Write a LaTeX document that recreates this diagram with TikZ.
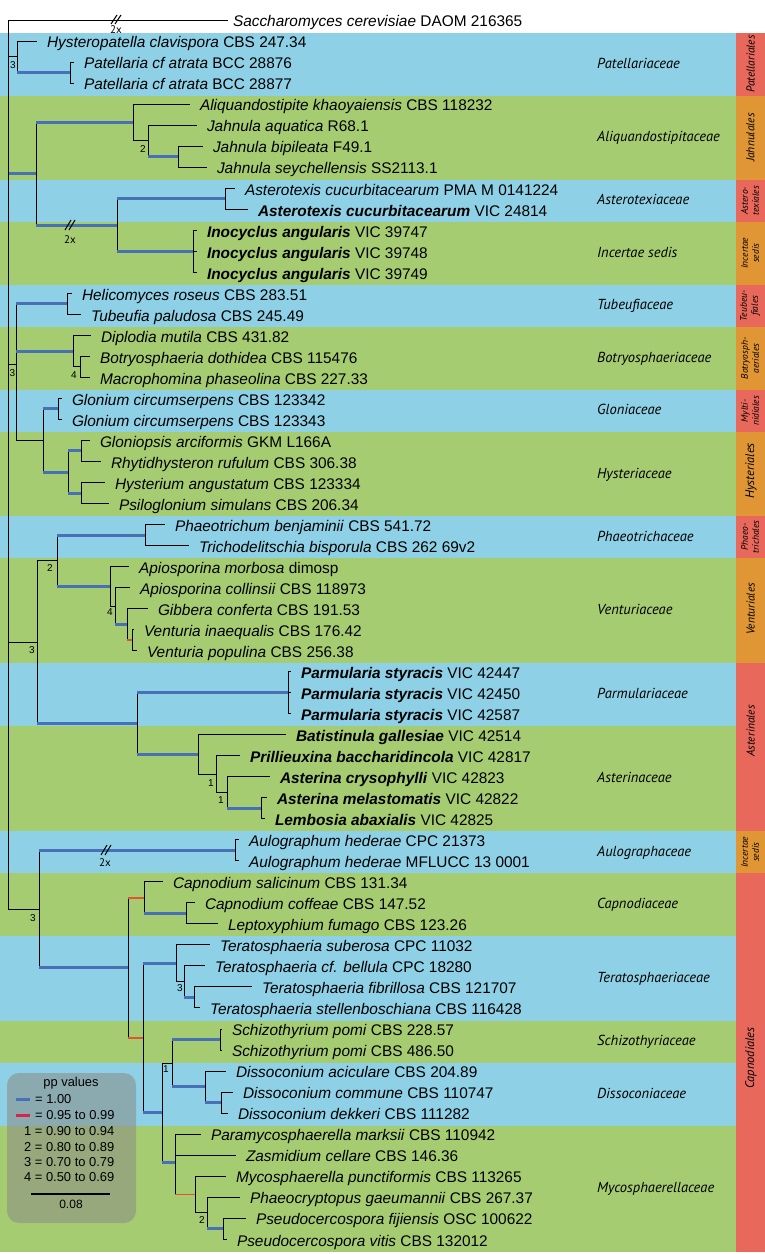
\documentclass[tikz,border=0pt]{standalone}
\usepackage{fontspec}
\setmainfont{Liberation Sans}
\newfontfamily\famfont{PT Sans}

\definecolor{bandblue}{RGB}{142,208,229}
\definecolor{bandgreen}{RGB}{166,204,114}
\definecolor{ordred}{RGB}{232,104,92}
\definecolor{ordorange}{RGB}{224,150,52}
\definecolor{ppblue}{RGB}{72,112,182}
\definecolor{ppred}{RGB}{226,84,48}
\definecolor{legred}{RGB}{214,36,78}
\definecolor{legbox}{RGB}{138,140,134}

\tikzset{
  br/.style={line width=1pt},
  pp1/.style={line width=3pt, draw=ppblue},
  ppr/.style={line width=1.8pt, draw=ppred},
  leaf/.style={anchor=west, inner xsep=10pt, inner ysep=0pt, outer sep=0pt, text height=13.6pt, text depth=0pt, font=\fontsize{15.4}{18}\selectfont},
  fam/.style={anchor=west, inner sep=0pt, text height=8pt, text depth=0pt, font=\famfont\itshape\fontsize{14.5}{17}\selectfont},
  ord/.style={rotate=90, align=center, inner sep=0pt, font=\famfont\itshape\fontsize{11.5}{12}\selectfont},
  ordsm/.style={rotate=90, align=center, inner sep=0pt, font=\famfont\itshape\fontsize{9.5}{11}\selectfont},
  pp/.style={inner sep=0pt, font=\fontsize{10}{12}\selectfont},
  brk/.style={inner sep=0pt, font=\famfont\fontsize{11}{13}\selectfont},
  leg/.style={anchor=west, inner sep=0pt, text height=9pt, text depth=0pt, font=\fontsize{12.9}{15}\selectfont},
}

\begin{document}
\begin{tikzpicture}[x=1pt, y=-1pt]
\useasboundingbox (0,0) rectangle (765,1254);

% family bands
\fill[bandblue] (0,32.5) rectangle (736,95.6);
\fill[bandgreen] (0,95.6) rectangle (736,179.7);
\fill[bandblue] (0,179.7) rectangle (736,221.7);
\fill[bandgreen] (0,221.7) rectangle (736,284.8);
\fill[bandblue] (0,284.8) rectangle (736,326.8);
\fill[bandgreen] (0,326.8) rectangle (736,389.9);
\fill[bandblue] (0,389.9) rectangle (736,431.9);
\fill[bandgreen] (0,431.9) rectangle (736,516.0);
\fill[bandblue] (0,516.0) rectangle (736,558.0);
\fill[bandgreen] (0,558.0) rectangle (736,663.1);
\fill[bandblue] (0,663.1) rectangle (736,726.2);
\fill[bandgreen] (0,726.2) rectangle (736,831.3);
\fill[bandblue] (0,831.3) rectangle (736,873.3);
\fill[bandgreen] (0,873.3) rectangle (736,936.4);
\fill[bandblue] (0,936.4) rectangle (736,1020.5);
\fill[bandgreen] (0,1020.5) rectangle (736,1062.5);
\fill[bandblue] (0,1062.5) rectangle (736,1125.6);
\fill[bandgreen] (0,1125.6) rectangle (736,1251.7);

% order column
\fill[ordred] (736,32.5) rectangle (765,95.6);
\fill[ordorange] (736,95.6) rectangle (765,179.7);
\fill[ordred] (736,179.7) rectangle (765,221.7);
\fill[ordorange] (736,221.7) rectangle (765,284.8);
\fill[ordred] (736,284.8) rectangle (765,326.8);
\fill[ordorange] (736,326.8) rectangle (765,389.9);
\fill[ordred] (736,389.9) rectangle (765,431.9);
\fill[ordorange] (736,431.9) rectangle (765,516.0);
\fill[ordred] (736,516.0) rectangle (765,558.0);
\fill[ordorange] (736,558.0) rectangle (765,663.1);
\fill[ordred] (736,663.1) rectangle (765,831.3);
\fill[ordorange] (736,831.3) rectangle (765,873.3);
\fill[ordred] (736,873.3) rectangle (765,1251.7);

\node[ord] (opatel) at (750.5,64) {Patellariales};
\node[ord] (ojahn) at (750.5,137.6) {Jahnulales};
\node[ordsm] (oastex) at (750,200.7) {Astero-\\texiales};
\node[ordsm] (oinc1) at (750,253.3) {Incertae\\sedis};
\node[ordsm] (otubeu) at (750,305.8) {Teubeu-\\fiales};
\node[ordsm] (obotry) at (750,358.4) {Botryosph-\\aeriales};
\node[ordsm] (omytil) at (750,410.9) {Mylti-\\nidiales};
\node[ord, font=\famfont\itshape\fontsize{12.5}{13}\selectfont] (ohyst) at (751,471) {Hysteriales};
\node[ordsm] (ophaeo) at (750,537) {Phaeo-\\trichales};
\node[ord] (oventu) at (750.5,609) {Venturiales};
\node[ord] (oaster) at (750.5,731) {Asterinales};
\node[ordsm] (oinc2) at (750,852.3) {Incertae\\sedis};
\node[ord, font=\famfont\itshape\fontsize{12.5}{13}\selectfont] (ocapn) at (751,1058) {Capnodiales};

% families
\node[fam] (fpatel) at (597,64) {Patellariaceae};
\node[fam] (faliq) at (597,137.6) {Aliquandostipitaceae};
\node[fam] (fastex) at (597,200.7) {Asterotexiaceae};
\node[fam] (finc) at (597,253.3) {Incertae sedis};
\node[fam] (ftubeu) at (597,305.8) {Tubeufiaceae};
\node[fam] (fbotry) at (597,358.4) {Botryosphaeriaceae};
\node[fam] (fglon) at (597,410.9) {Gloniaceae};
\node[fam] (fhyst) at (597,474) {Hysteriaceae};
\node[fam] (fphaeo) at (597,537) {Phaeotrichaceae};
\node[fam] (fventu) at (597,610.6) {Venturiaceae};
\node[fam] (fparm) at (597,694.7) {Parmulariaceae};
\node[fam] (faster) at (597,778.8) {Asterinaceae};
\node[fam] (faulo) at (597,852.3) {Aulographaceae};
\node[fam] (fcapn) at (597,904.9) {Capnodiaceae};
\node[fam] (fterat) at (597,978.5) {Teratosphaeriaceae};
\node[fam] (fschiz) at (597,1041.5) {Schizothyriaceae};
\node[fam] (fdisso) at (597,1094) {Dissoconiaceae};
\node[fam] (fmyco) at (597,1188.7) {Mycosphaerellaceae};

% taxa
\node[leaf, inner xsep=5pt] (sacch) at (228,20) {\textit{Saccharomyces cerevisiae} DAOM 216365};
\node[leaf] (hclav) at (37,41.0) {\textit{Hysteropatella clavispora} CBS 247.34};
\node[leaf] (pat1) at (74,62.0) {\textit{Patellaria cf atrata} BCC 28876};
\node[leaf] (pat2) at (74,83.1) {\textit{Patellaria cf atrata} BCC 28877};
\node[leaf] (aliq) at (190,104.1) {\textit{Aliquandostipite khaoyaiensis} CBS 118232};
\node[leaf] (jaq) at (197,125.1) {\textit{Jahnula aquatica} R68.1};
\node[leaf] (jbip) at (203,146.1) {\textit{Jahnula bipileata} F49.1};
\node[leaf] (jsey) at (207,167.1) {\textit{Jahnula seychellensis} SS2113.1};
\node[leaf] (astx1) at (235,188.2) {\textit{Asterotexis cucurbitacearum} PMA M 0141224};
\node[leaf] (astx2) at (248,209.2) {\textbf{\textit{Asterotexis cucurbitacearum}} VIC 24814};
\node[leaf] (ino1) at (197,230.2) {\textbf{\textit{Inocyclus angularis}} VIC 39747};
\node[leaf] (ino2) at (197,251.2) {\textbf{\textit{Inocyclus angularis}} VIC 39748};
\node[leaf] (ino3) at (197,272.2) {\textbf{\textit{Inocyclus angularis}} VIC 39749};
\node[leaf] (helic) at (72,293.3) {\textit{Helicomyces roseus} CBS 283.51};
\node[leaf] (tubpa) at (81,314.3) {\textit{Tubeufia paludosa} CBS 245.49};
\node[leaf] (dipl) at (91,335.3) {\textit{Diplodia mutila} CBS 431.82};
\node[leaf] (botd) at (90,356.3) {\textit{Botryosphaeria dothidea} CBS 115476};
\node[leaf] (macro) at (90,377.3) {\textit{Macrophomina phaseolina} CBS 227.33};
\node[leaf] (glo1) at (62,398.4) {\textit{Glonium circumserpens} CBS 123342};
\node[leaf] (glo2) at (62,419.4) {\textit{Glonium circumserpens} CBS 123343};
\node[leaf] (glps) at (90,440.4) {\textit{Gloniopsis arciformis} GKM L166A};
\node[leaf] (rhyt) at (101,461.4) {\textit{Rhytidhysteron rufulum} CBS 306.38};
\node[leaf] (hysa) at (105,482.4) {\textit{Hysterium angustatum} CBS 123334};
\node[leaf] (psil) at (109,503.5) {\textit{Psiloglonium simulans} CBS 206.34};
\node[leaf] (phbe) at (165,524.5) {\textit{Phaeotrichum benjaminii} CBS 541.72};
\node[leaf] (trbi) at (189,545.5) {\textit{Trichodelitschia bisporula} CBS 262 69v2};
\node[leaf] (apmo) at (129,566.5) {\textit{Apiosporina morbosa} dimosp};
\node[leaf] (apco) at (130,587.5) {\textit{Apiosporina collinsii} CBS 118973};
\node[leaf] (gibb) at (148,608.6) {\textit{Gibbera conferta} CBS 191.53};
\node[leaf] (vein) at (134,629.6) {\textit{Venturia inaequalis} CBS 176.42};
\node[leaf] (vepo) at (137,650.6) {\textit{Venturia populina} CBS 256.38};
\node[leaf] (parm1) at (291,671.6) {\textbf{\textit{Parmularia styracis}} VIC 42447};
\node[leaf] (parm2) at (291,692.6) {\textbf{\textit{Parmularia styracis}} VIC 42450};
\node[leaf] (parm3) at (291,713.7) {\textbf{\textit{Parmularia styracis}} VIC 42587};
\node[leaf] (bati) at (286,734.7) {\textbf{\textit{Batistinula gallesiae}} VIC 42514};
\node[leaf] (pril) at (240,755.7) {\textbf{\textit{Prillieuxina baccharidincola}} VIC 42817};
\node[leaf] (ascr) at (270,776.7) {\textbf{\textit{Asterina crysophylli}} VIC 42823};
\node[leaf] (asme) at (267,797.7) {\textbf{\textit{Asterina melastomatis}} VIC 42822};
\node[leaf] (leab) at (265,818.8) {\textbf{\textit{Lembosia abaxialis}} VIC 42825};
\node[leaf] (aul1) at (239,839.8) {\textit{Aulographum hederae} CPC 21373};
\node[leaf] (aul2) at (239,860.8) {\textit{Aulographum hederae} MFLUCC 13 0001};
\node[leaf] (casa) at (163,881.8) {\textit{Capnodium salicinum} CBS 131.34};
\node[leaf] (caco) at (195,902.8) {\textit{Capnodium coffeae} CBS 147.52};
\node[leaf] (lefu) at (218,923.9) {\textit{Leptoxyphium fumago} CBS 123.26};
\node[leaf] (tesu) at (210,944.9) {\textit{Teratosphaeria suberosa} CPC 11032};
\node[leaf] (tebe) at (205,965.9) {\textit{Teratosphaeria cf. bellula} CPC 18280};
\node[leaf] (tefi) at (252,986.9) {\textit{Teratosphaeria fibrillosa} CBS 121707};
\node[leaf] (test) at (200,1007.9) {\textit{Teratosphaeria stellenboschiana} CBS 116428};
\node[leaf] (schp1) at (222,1029.0) {\textit{Schizothyrium pomi} CBS 228.57};
\node[leaf] (schp2) at (222,1050.0) {\textit{Schizothyrium pomi} CBS 486.50};
\node[leaf] (diac) at (226,1071.0) {\textit{Dissoconium aciculare} CBS 204.89};
\node[leaf] (dico) at (233,1092.0) {\textit{Dissoconium commune} CBS 110747};
\node[leaf] (dide) at (228,1113.0) {\textit{Dissoconium dekkeri} CBS 111282};
\node[leaf] (pama) at (201,1134.1) {\textit{Paramycosphaerella marksii} CBS 110942};
\node[leaf] (zace) at (236,1155.1) {\textit{Zasmidium cellare} CBS 146.36};
\node[leaf] (mypu) at (226,1176.1) {\textit{Mycosphaerella punctiformis} CBS 113265};
\node[leaf] (phga) at (240,1197.1) {\textit{Phaeocryptopus gaeumannii} CBS 267.37};
\node[leaf] (psfi) at (246,1218.1) {\textit{Pseudocercospora fijiensis} OSC 100622};
\node[leaf] (psvi) at (227,1239.2) {\textit{Pseudocercospora vitis} CBS 132012};

% internal nodes
\coordinate (root) at (8,20);
\coordinate (patel) at (17,56.8);
\coordinate (patcf) at (70,72.5);
\coordinate (jahast) at (36,173.8);
\coordinate (jahn) at (133,122.5);
\coordinate (jahsub) at (148,140.9);
\coordinate (jahbs) at (178,156.6);
\coordinate (astin) at (117,225.0);
\coordinate (astex) at (225,198.7);
\coordinate (inoc) at (193,251.2);
\coordinate (dothi) at (16,364.0);
\coordinate (tubeu) at (67,303.8);
\coordinate (botry) at (73,351.1);
\coordinate (botsub) at (80,366.8);
\coordinate (hystm) at (43,440.4);
\coordinate (gloni) at (58,408.9);
\coordinate (hysteri) at (68,472.0);
\coordinate (hys1) at (81,450.9);
\coordinate (hys2) at (81,493.0);
\coordinate (vast) at (37,642.1);
\coordinate (phaven) at (57,560.6);
\coordinate (phaeo) at (145,535.0);
\coordinate (ventu) at (110,586.2);
\coordinate (vsub1) at (115,606.0);
\coordinate (vsub2) at (127,624.4);
\coordinate (vsub3) at (132,640.1);
\coordinate (asterin) at (137,723.5);
\coordinate (parm) at (288,692.6);
\coordinate (astc) at (198,754.4);
\coordinate (ast1) at (216,774.1);
\coordinate (ast2) at (227,792.5);
\coordinate (ast3) at (261,808.3);
\coordinate (capall) at (39,909.1);
\coordinate (aulo) at (235,850.3);
\coordinate (capno) at (128,967.8);
\coordinate (capnd) at (144,897.6);
\coordinate (capcl) at (186,913.4);
\coordinate (capr) at (143,1038.0);
\coordinate (terat) at (176,963.3);
\coordinate (ter1) at (184,981.7);
\coordinate (ter2) at (194,997.4);
\coordinate (schmy) at (162,1112.6);
\coordinate (schdi) at (172,1063.2);
\coordinate (schiz) at (220,1039.5);
\coordinate (disso) at (205,1086.8);
\coordinate (dis2) at (221,1102.5);
\coordinate (myco) at (175,1162.0);
\coordinate (mycsub) at (195,1194.5);
\coordinate (my2) at (207,1212.9);
\coordinate (my3) at (223,1228.7);

% branches
\draw[br] (root) -- (sacch);
\draw[br] (root) |- (patel);
\draw[br] (patel) |- (hclav);
\draw[br] (patel) -- (patel |- patcf) edge[pp1] (patcf);
\draw[br] (patcf) |- (pat1);
\draw[br] (patcf) |- (pat2);
\draw[br] (root) -- (root |- jahast) edge[pp1] (jahast);
\draw[br] (jahast) -- (jahast |- jahn) edge[pp1] (jahn);
\draw[br] (jahn) |- (aliq);
\draw[br] (jahn) |- (jahsub);
\draw[br] (jahsub) |- (jaq);
\draw[br] (jahsub) -- (jahsub |- jahbs) edge[pp1] (jahbs);
\draw[br] (jahbs) |- (jbip);
\draw[br] (jahbs) |- (jsey);
\draw[br] (jahast) -- (jahast |- astin) edge[pp1] (astin);
\draw[br] (astin) -- (astin |- astex) edge[pp1] (astex);
\draw[br] (astex) |- (astx1);
\draw[br] (astex) |- (astx2);
\draw[br] (astin) -- (astin |- inoc) edge[pp1] (inoc);
\draw[br] (inoc) |- (ino1);
\draw[br] (inoc) |- (ino2);
\draw[br] (inoc) |- (ino3);
\draw[br] (root) |- (dothi);
\draw[br] (dothi) -- (dothi |- tubeu) edge[pp1] (tubeu);
\draw[br] (tubeu) |- (helic);
\draw[br] (tubeu) |- (tubpa);
\draw[br] (dothi) -- (dothi |- botry) edge[pp1] (botry);
\draw[br] (botry) |- (dipl);
\draw[br] (botry) |- (botsub);
\draw[br] (botsub) |- (botd);
\draw[br] (botsub) |- (macro);
\draw[br] (dothi) |- (hystm);
\draw[br] (hystm) -- (hystm |- gloni) edge[pp1] (gloni);
\draw[br] (gloni) |- (glo1);
\draw[br] (gloni) |- (glo2);
\draw[br] (hystm) -- (hystm |- hysteri) edge[pp1] (hysteri);
\draw[br] (hysteri) -- (hysteri |- hys1) edge[pp1] (hys1);
\draw[br] (hys1) |- (glps);
\draw[br] (hys1) |- (rhyt);
\draw[br] (hysteri) -- (hysteri |- hys2) edge[pp1] (hys2);
\draw[br] (hys2) |- (hysa);
\draw[br] (hys2) |- (psil);
\draw[br] (root) |- (vast);
\draw[br] (vast) |- (phaven);
\draw[br] (phaven) -- (phaven |- phaeo) edge[pp1] (phaeo);
\draw[br] (phaeo) |- (phbe);
\draw[br] (phaeo) |- (trbi);
\draw[br] (phaven) -- (phaven |- ventu) edge[pp1] (ventu);
\draw[br] (ventu) |- (apmo);
\draw[br] (ventu) |- (vsub1);
\draw[br] (vsub1) |- (apco);
\draw[br] (vsub1) -- (vsub1 |- vsub2) edge[pp1] (vsub2);
\draw[br] (vsub2) |- (gibb);
\draw[br] (vsub2) -- (vsub2 |- vsub3) edge[ppr] (vsub3);
\draw[br] (vsub3) |- (vein);
\draw[br] (vsub3) |- (vepo);
\draw[br] (vast) -- (vast |- asterin) edge[pp1] (asterin);
\draw[br] (asterin) -- (asterin |- parm) edge[pp1] (parm);
\draw[br] (parm) |- (parm1);
\draw[br] (parm) |- (parm2);
\draw[br] (parm) |- (parm3);
\draw[br] (asterin) -- (asterin |- astc) edge[pp1] (astc);
\draw[br] (astc) |- (bati);
\draw[br] (astc) |- (ast1);
\draw[br] (ast1) |- (pril);
\draw[br] (ast1) |- (ast2);
\draw[br] (ast2) |- (ascr);
\draw[br] (ast2) -- (ast2 |- ast3) edge[pp1] (ast3);
\draw[br] (ast3) |- (asme);
\draw[br] (ast3) |- (leab);
\draw[br] (root) |- (capall);
\draw[br] (capall) -- (capall |- aulo) edge[pp1] (aulo);
\draw[br] (aulo) |- (aul1);
\draw[br] (aulo) |- (aul2);
\draw[br] (capall) -- (capall |- capno) edge[pp1] (capno);
\draw[br] (capno) -- (capno |- capnd) edge[ppr] (capnd);
\draw[br] (capnd) |- (casa);
\draw[br] (capnd) -- (capnd |- capcl) edge[pp1] (capcl);
\draw[br] (capcl) |- (caco);
\draw[br] (capcl) |- (lefu);
\draw[br] (capno) -- (capno |- capr) edge[ppr] (capr);
\draw[br] (capr) -- (capr |- terat) edge[pp1] (terat);
\draw[br] (terat) |- (tesu);
\draw[br] (terat) |- (ter1);
\draw[br] (ter1) |- (tebe);
\draw[br] (ter1) -- (ter1 |- ter2) edge[pp1] (ter2);
\draw[br] (ter2) |- (tefi);
\draw[br] (ter2) |- (test);
\draw[br] (capr) -- (capr |- schmy) edge[pp1] (schmy);
\draw[br] (schmy) |- (schdi);
\draw[br] (schdi) -- (schdi |- schiz) edge[pp1] (schiz);
\draw[br] (schiz) |- (schp1);
\draw[br] (schiz) |- (schp2);
\draw[br] (schdi) -- (schdi |- disso) edge[pp1] (disso);
\draw[br] (disso) |- (diac);
\draw[br] (disso) -- (disso |- dis2) edge[pp1] (dis2);
\draw[br] (dis2) |- (dico);
\draw[br] (dis2) |- (dide);
\draw[br] (schmy) -- (schmy |- myco) edge[pp1] (myco);
\draw[br] (myco) |- (pama);
\draw[br] (myco) |- (zace);
\draw[br] (myco) -- (myco |- mycsub) edge[ppr] (mycsub);
\draw[br] (mycsub) |- (mypu);
\draw[br] (mycsub) |- (my2);
\draw[br] (my2) |- (phga);
\draw[br] (my2) -- (my2 |- my3) edge[pp1] (my3);
\draw[br] (my3) |- (psfi);
\draw[br] (my3) |- (psvi);

% shortened branches
\draw[br] (111,24) -- (117,15) (115,24) -- (121,15);
\node[brk] (x2a) at (116,29.5) {2x};
\draw[br] (65,230) -- (71,220) (69,230) -- (75,220);
\node[brk] (x2b) at (70,240) {2x};
\draw[br] (101,855) -- (107,845) (105,855) -- (111,845);
\node[brk] (x2c) at (105,863) {2x};

% support values
\node[pp] (s1) at (13,65) {3};
\node[pp] (s2) at (143,149) {2};
\node[pp] (s3) at (12.5,373) {3};
\node[pp] (s4) at (74,375) {4};
\node[pp] (s5) at (50,568) {2};
\node[pp] (s6) at (110,612) {4};
\node[pp] (s7) at (32,650) {3};
\node[pp] (s8) at (211,783) {1};
\node[pp] (s9) at (221,800) {1};
\node[pp] (s10) at (33,918) {3};
\node[pp] (s11) at (180,988) {3};
\node[pp] (s12) at (166,1069) {1};
\node[pp] (s13) at (202,1220) {2};

% legend
\node[fill=legbox, fill opacity=0.55, rounded corners=12pt, minimum width=129pt, minimum height=150pt, inner sep=0pt] (legend) at (71.5,1148) {};
\node[inner sep=0pt, font=\fontsize{12.9}{15}\selectfont] (legtitle) at (71,1083) {pp values};
\coordinate (lb1) at (16,1099);
\coordinate (lb2) at (30,1099);
\draw[pp1] (lb1) -- (lb2);
\node[leg] (leg1) at (35,1099) {= 1.00};
\coordinate (lr1) at (16,1115);
\coordinate (lr2) at (30,1115);
\draw[line width=3pt, legred] (lr1) -- (lr2);
\node[leg] (leg2) at (35,1115) {= 0.95 to 0.99};
\node[leg] (leg3) at (24,1131) {1 = 0.90 to 0.94};
\node[leg] (leg4) at (24,1147) {2 = 0.80 to 0.89};
\node[leg] (leg5) at (24,1162) {3 = 0.70 to 0.79};
\node[leg] (leg6) at (24,1177) {4 = 0.50 to 0.69};
\coordinate (sb1) at (31,1194);
\coordinate (sb2) at (110,1194);
\draw[line width=1.2pt] (sb1) -- (sb2);
\node[inner sep=0pt, font=\fontsize{12}{14}\selectfont] (sblab) at (71,1204) {0.08};
\end{tikzpicture}
\end{document}
